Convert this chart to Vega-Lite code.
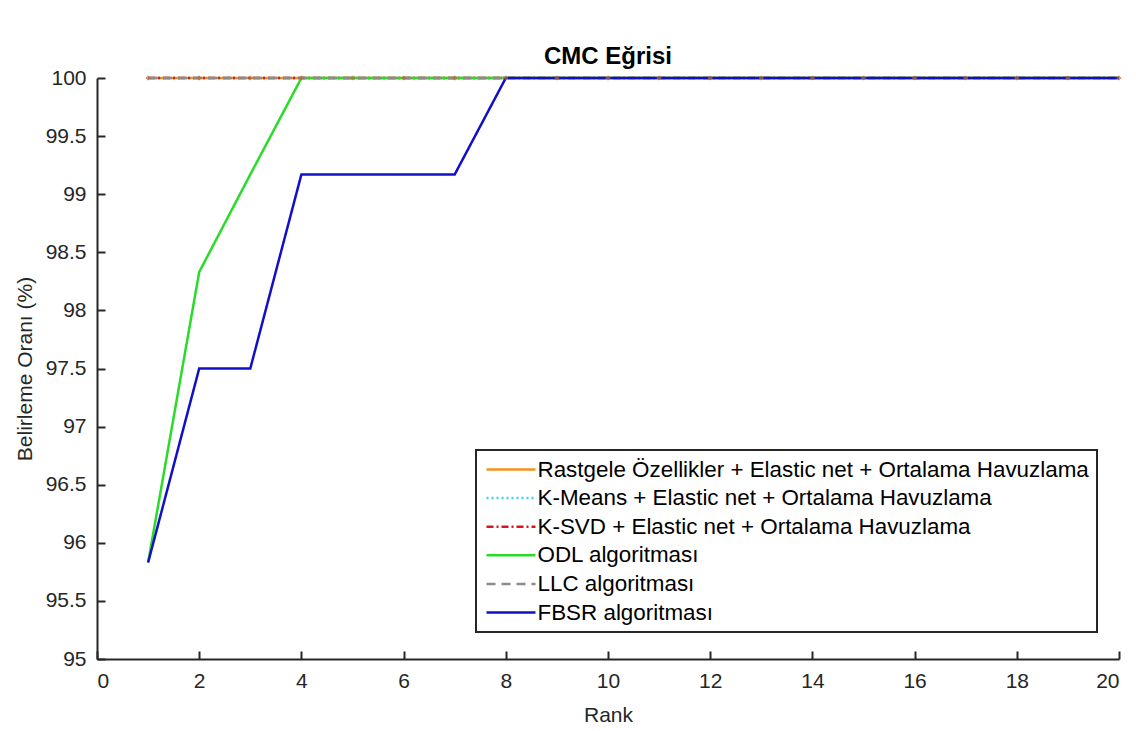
{
  "$schema": "https://vega.github.io/schema/vega-lite/v6.json",
  "autosize": {"type": "none"},
  "padding": {"left": 97, "top": 78, "right": 17, "bottom": 72},
  "width": 1022,
  "height": 581,
  "background": "white",
  "config": {
    "view": {"stroke": null},
    "font": "Liberation Sans"
  },
  "title": {
    "text": "CMC Eğrisi",
    "font": "Liberation Sans",
    "fontSize": 24,
    "fontWeight": "bold",
    "color": "#000000",
    "anchor": "middle",
    "offset": -2
  },
  "data": {
    "values": [
      {"rank": 1, "rate": 100, "method": "Rastgele Özellikler + Elastic net + Ortalama Havuzlama"},
      {"rank": 2, "rate": 100, "method": "Rastgele Özellikler + Elastic net + Ortalama Havuzlama"},
      {"rank": 3, "rate": 100, "method": "Rastgele Özellikler + Elastic net + Ortalama Havuzlama"},
      {"rank": 4, "rate": 100, "method": "Rastgele Özellikler + Elastic net + Ortalama Havuzlama"},
      {"rank": 5, "rate": 100, "method": "Rastgele Özellikler + Elastic net + Ortalama Havuzlama"},
      {"rank": 6, "rate": 100, "method": "Rastgele Özellikler + Elastic net + Ortalama Havuzlama"},
      {"rank": 7, "rate": 100, "method": "Rastgele Özellikler + Elastic net + Ortalama Havuzlama"},
      {"rank": 8, "rate": 100, "method": "Rastgele Özellikler + Elastic net + Ortalama Havuzlama"},
      {"rank": 9, "rate": 100, "method": "Rastgele Özellikler + Elastic net + Ortalama Havuzlama"},
      {"rank": 10, "rate": 100, "method": "Rastgele Özellikler + Elastic net + Ortalama Havuzlama"},
      {"rank": 11, "rate": 100, "method": "Rastgele Özellikler + Elastic net + Ortalama Havuzlama"},
      {"rank": 12, "rate": 100, "method": "Rastgele Özellikler + Elastic net + Ortalama Havuzlama"},
      {"rank": 13, "rate": 100, "method": "Rastgele Özellikler + Elastic net + Ortalama Havuzlama"},
      {"rank": 14, "rate": 100, "method": "Rastgele Özellikler + Elastic net + Ortalama Havuzlama"},
      {"rank": 15, "rate": 100, "method": "Rastgele Özellikler + Elastic net + Ortalama Havuzlama"},
      {"rank": 16, "rate": 100, "method": "Rastgele Özellikler + Elastic net + Ortalama Havuzlama"},
      {"rank": 17, "rate": 100, "method": "Rastgele Özellikler + Elastic net + Ortalama Havuzlama"},
      {"rank": 18, "rate": 100, "method": "Rastgele Özellikler + Elastic net + Ortalama Havuzlama"},
      {"rank": 19, "rate": 100, "method": "Rastgele Özellikler + Elastic net + Ortalama Havuzlama"},
      {"rank": 20, "rate": 100, "method": "Rastgele Özellikler + Elastic net + Ortalama Havuzlama"},
      {"rank": 1, "rate": 100, "method": "K-Means + Elastic net + Ortalama Havuzlama"},
      {"rank": 2, "rate": 100, "method": "K-Means + Elastic net + Ortalama Havuzlama"},
      {"rank": 3, "rate": 100, "method": "K-Means + Elastic net + Ortalama Havuzlama"},
      {"rank": 4, "rate": 100, "method": "K-Means + Elastic net + Ortalama Havuzlama"},
      {"rank": 5, "rate": 100, "method": "K-Means + Elastic net + Ortalama Havuzlama"},
      {"rank": 6, "rate": 100, "method": "K-Means + Elastic net + Ortalama Havuzlama"},
      {"rank": 7, "rate": 100, "method": "K-Means + Elastic net + Ortalama Havuzlama"},
      {"rank": 8, "rate": 100, "method": "K-Means + Elastic net + Ortalama Havuzlama"},
      {"rank": 9, "rate": 100, "method": "K-Means + Elastic net + Ortalama Havuzlama"},
      {"rank": 10, "rate": 100, "method": "K-Means + Elastic net + Ortalama Havuzlama"},
      {"rank": 11, "rate": 100, "method": "K-Means + Elastic net + Ortalama Havuzlama"},
      {"rank": 12, "rate": 100, "method": "K-Means + Elastic net + Ortalama Havuzlama"},
      {"rank": 13, "rate": 100, "method": "K-Means + Elastic net + Ortalama Havuzlama"},
      {"rank": 14, "rate": 100, "method": "K-Means + Elastic net + Ortalama Havuzlama"},
      {"rank": 15, "rate": 100, "method": "K-Means + Elastic net + Ortalama Havuzlama"},
      {"rank": 16, "rate": 100, "method": "K-Means + Elastic net + Ortalama Havuzlama"},
      {"rank": 17, "rate": 100, "method": "K-Means + Elastic net + Ortalama Havuzlama"},
      {"rank": 18, "rate": 100, "method": "K-Means + Elastic net + Ortalama Havuzlama"},
      {"rank": 19, "rate": 100, "method": "K-Means + Elastic net + Ortalama Havuzlama"},
      {"rank": 20, "rate": 100, "method": "K-Means + Elastic net + Ortalama Havuzlama"},
      {"rank": 1, "rate": 100, "method": "K-SVD + Elastic net + Ortalama Havuzlama"},
      {"rank": 2, "rate": 100, "method": "K-SVD + Elastic net + Ortalama Havuzlama"},
      {"rank": 3, "rate": 100, "method": "K-SVD + Elastic net + Ortalama Havuzlama"},
      {"rank": 4, "rate": 100, "method": "K-SVD + Elastic net + Ortalama Havuzlama"},
      {"rank": 5, "rate": 100, "method": "K-SVD + Elastic net + Ortalama Havuzlama"},
      {"rank": 6, "rate": 100, "method": "K-SVD + Elastic net + Ortalama Havuzlama"},
      {"rank": 7, "rate": 100, "method": "K-SVD + Elastic net + Ortalama Havuzlama"},
      {"rank": 8, "rate": 100, "method": "K-SVD + Elastic net + Ortalama Havuzlama"},
      {"rank": 9, "rate": 100, "method": "K-SVD + Elastic net + Ortalama Havuzlama"},
      {"rank": 10, "rate": 100, "method": "K-SVD + Elastic net + Ortalama Havuzlama"},
      {"rank": 11, "rate": 100, "method": "K-SVD + Elastic net + Ortalama Havuzlama"},
      {"rank": 12, "rate": 100, "method": "K-SVD + Elastic net + Ortalama Havuzlama"},
      {"rank": 13, "rate": 100, "method": "K-SVD + Elastic net + Ortalama Havuzlama"},
      {"rank": 14, "rate": 100, "method": "K-SVD + Elastic net + Ortalama Havuzlama"},
      {"rank": 15, "rate": 100, "method": "K-SVD + Elastic net + Ortalama Havuzlama"},
      {"rank": 16, "rate": 100, "method": "K-SVD + Elastic net + Ortalama Havuzlama"},
      {"rank": 17, "rate": 100, "method": "K-SVD + Elastic net + Ortalama Havuzlama"},
      {"rank": 18, "rate": 100, "method": "K-SVD + Elastic net + Ortalama Havuzlama"},
      {"rank": 19, "rate": 100, "method": "K-SVD + Elastic net + Ortalama Havuzlama"},
      {"rank": 20, "rate": 100, "method": "K-SVD + Elastic net + Ortalama Havuzlama"},
      {"rank": 1, "rate": 95.83, "method": "ODL algoritması"},
      {"rank": 2, "rate": 98.33, "method": "ODL algoritması"},
      {"rank": 3, "rate": 99.17, "method": "ODL algoritması"},
      {"rank": 4, "rate": 100, "method": "ODL algoritması"},
      {"rank": 5, "rate": 100, "method": "ODL algoritması"},
      {"rank": 6, "rate": 100, "method": "ODL algoritması"},
      {"rank": 7, "rate": 100, "method": "ODL algoritması"},
      {"rank": 8, "rate": 100, "method": "ODL algoritması"},
      {"rank": 9, "rate": 100, "method": "ODL algoritması"},
      {"rank": 10, "rate": 100, "method": "ODL algoritması"},
      {"rank": 11, "rate": 100, "method": "ODL algoritması"},
      {"rank": 12, "rate": 100, "method": "ODL algoritması"},
      {"rank": 13, "rate": 100, "method": "ODL algoritması"},
      {"rank": 14, "rate": 100, "method": "ODL algoritması"},
      {"rank": 15, "rate": 100, "method": "ODL algoritması"},
      {"rank": 16, "rate": 100, "method": "ODL algoritması"},
      {"rank": 17, "rate": 100, "method": "ODL algoritması"},
      {"rank": 18, "rate": 100, "method": "ODL algoritması"},
      {"rank": 19, "rate": 100, "method": "ODL algoritması"},
      {"rank": 20, "rate": 100, "method": "ODL algoritması"},
      {"rank": 1, "rate": 100, "method": "LLC algoritması"},
      {"rank": 2, "rate": 100, "method": "LLC algoritması"},
      {"rank": 3, "rate": 100, "method": "LLC algoritması"},
      {"rank": 4, "rate": 100, "method": "LLC algoritması"},
      {"rank": 5, "rate": 100, "method": "LLC algoritması"},
      {"rank": 6, "rate": 100, "method": "LLC algoritması"},
      {"rank": 7, "rate": 100, "method": "LLC algoritması"},
      {"rank": 8, "rate": 100, "method": "LLC algoritması"},
      {"rank": 9, "rate": 100, "method": "LLC algoritması"},
      {"rank": 10, "rate": 100, "method": "LLC algoritması"},
      {"rank": 11, "rate": 100, "method": "LLC algoritması"},
      {"rank": 12, "rate": 100, "method": "LLC algoritması"},
      {"rank": 13, "rate": 100, "method": "LLC algoritması"},
      {"rank": 14, "rate": 100, "method": "LLC algoritması"},
      {"rank": 15, "rate": 100, "method": "LLC algoritması"},
      {"rank": 16, "rate": 100, "method": "LLC algoritması"},
      {"rank": 17, "rate": 100, "method": "LLC algoritması"},
      {"rank": 18, "rate": 100, "method": "LLC algoritması"},
      {"rank": 19, "rate": 100, "method": "LLC algoritması"},
      {"rank": 20, "rate": 100, "method": "LLC algoritması"},
      {"rank": 1, "rate": 95.83, "method": "FBSR algoritması"},
      {"rank": 2, "rate": 97.5, "method": "FBSR algoritması"},
      {"rank": 3, "rate": 97.5, "method": "FBSR algoritması"},
      {"rank": 4, "rate": 99.17, "method": "FBSR algoritması"},
      {"rank": 5, "rate": 99.17, "method": "FBSR algoritması"},
      {"rank": 6, "rate": 99.17, "method": "FBSR algoritması"},
      {"rank": 7, "rate": 99.17, "method": "FBSR algoritması"},
      {"rank": 8, "rate": 100, "method": "FBSR algoritması"},
      {"rank": 9, "rate": 100, "method": "FBSR algoritması"},
      {"rank": 10, "rate": 100, "method": "FBSR algoritması"},
      {"rank": 11, "rate": 100, "method": "FBSR algoritması"},
      {"rank": 12, "rate": 100, "method": "FBSR algoritması"},
      {"rank": 13, "rate": 100, "method": "FBSR algoritması"},
      {"rank": 14, "rate": 100, "method": "FBSR algoritması"},
      {"rank": 15, "rate": 100, "method": "FBSR algoritması"},
      {"rank": 16, "rate": 100, "method": "FBSR algoritması"},
      {"rank": 17, "rate": 100, "method": "FBSR algoritması"},
      {"rank": 18, "rate": 100, "method": "FBSR algoritması"},
      {"rank": 19, "rate": 100, "method": "FBSR algoritması"},
      {"rank": 20, "rate": 100, "method": "FBSR algoritması"}
    ]
  },
  "layer": [
    {
      "mark": {"type": "line", "strokeWidth": 2.5, "clip": false},
      "encoding": {
        "x": {
          "field": "rank",
          "type": "quantitative",
          "scale": {"domain": [0, 20], "nice": false, "zero": false},
          "axis": {
            "title": "Rank",
            "values": [0, 2, 4, 6, 8, 10, 12, 14, 16, 18, 20],
            "grid": true,
            "gridColor": "#262626",
            "gridWidth": 2,
            "gridOpacity": 1,
            "gridDash": [8, 3000],
            "gridDashOffset": 2435,
            "ticks": false,
            "domainColor": "#262626",
            "domainWidth": 2,
            "labelPadding": 11,
            "labelFont": "Liberation Sans",
            "labelFontSize": 21,
            "labelColor": "#262626",
            "titleFont": "Liberation Sans",
            "titleFontSize": 21,
            "titleFontWeight": "normal",
            "titleColor": "#262626",
            "titlePadding": 13
          }
        },
        "y": {
          "field": "rate",
          "type": "quantitative",
          "scale": {"domain": [95, 100], "nice": false, "zero": false},
          "axis": {
            "title": "Belirleme Oranı (%)",
            "values": [95, 95.5, 96, 96.5, 97, 97.5, 98, 98.5, 99, 99.5, 100],
            "format": "~g",
            "grid": true,
            "gridColor": "#262626",
            "gridWidth": 2,
            "gridOpacity": 1,
            "gridDash": [8, 3000],
            "ticks": false,
            "domainColor": "#262626",
            "domainWidth": 2,
            "labelPadding": 11,
            "labelFont": "Liberation Sans",
            "labelFontSize": 21,
            "labelColor": "#262626",
            "titleFont": "Liberation Sans",
            "titleFontSize": 21,
            "titleFontWeight": "normal",
            "titleColor": "#262626",
            "titlePadding": 10
          }
        },
        "color": {
          "field": "method",
          "type": "nominal",
          "sort": null,
          "scale": {
            "domain": [
              "Rastgele Özellikler + Elastic net + Ortalama Havuzlama",
              "K-Means + Elastic net + Ortalama Havuzlama",
              "K-SVD + Elastic net + Ortalama Havuzlama",
              "ODL algoritması",
              "LLC algoritması",
              "FBSR algoritması"
            ],
            "range": ["#F5901E", "#3CD2F0", "#D8141E", "#2ADB2A", "#8C8C8C", "#1010C8"]
          },
          "legend": {
            "title": null,
            "orient": "none",
            "legendX": 379,
            "legendY": 372,
            "direction": "vertical",
            "strokeColor": "#262626",
            "fillColor": "white",
            "padding": 8,
            "symbolType": "M-2.45,0H2.45",
            "symbolSize": 400,
            "symbolOffset": 15.5,
            "symbolStrokeWidth": 2.5,
            "symbolFillColor": "transparent",
            "labelFont": "Liberation Sans",
            "labelFontSize": 22.4,
            "labelColor": "#000000",
            "labelOffset": 15,
            "labelLimit": 700,
            "rowPadding": 5.6,
            "encode": {"legend": {"update": {"strokeWidth": {"value": 2}}}}
          }
        },
        "strokeDash": {
          "field": "method",
          "type": "nominal",
          "sort": null,
          "scale": {
            "domain": [
              "Rastgele Özellikler + Elastic net + Ortalama Havuzlama",
              "K-Means + Elastic net + Ortalama Havuzlama",
              "K-SVD + Elastic net + Ortalama Havuzlama",
              "ODL algoritması",
              "LLC algoritması",
              "FBSR algoritması"
            ],
            "range": [[1, 0], [2, 3], [7, 3, 2, 3], [1, 0], [9, 6], [1, 0]]
          }
        }
      }
    },
    {
      "transform": [{"filter": "datum.method === 'Rastgele Özellikler + Elastic net + Ortalama Havuzlama'"}],
      "mark": {"type": "point", "shape": "cross", "filled": true, "size": 20, "color": "#B86A30", "clip": false},
      "encoding": {
        "x": {"field": "rank", "type": "quantitative"},
        "y": {"field": "rate", "type": "quantitative"}
      }
    }
  ]
}
